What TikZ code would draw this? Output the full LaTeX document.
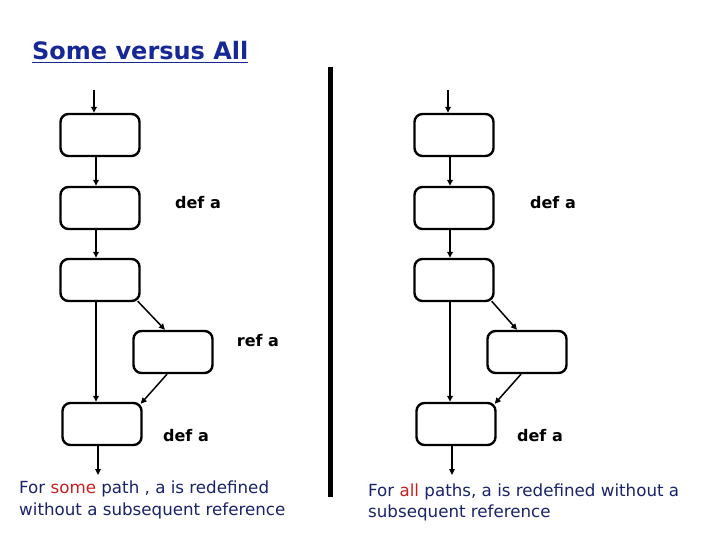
\documentclass[tikz,border=0pt]{standalone}
\usepackage{fontspec}
\setmainfont{DejaVu Sans}
\usepackage{xcolor}
\usepackage{tikz}
\usetikzlibrary{arrows.meta}
\definecolor{titleblue}{RGB}{22,40,150}
\definecolor{noteblue}{RGB}{25,35,105}
\definecolor{notered}{RGB}{200,30,30}
\tikzset{
  blockbox/.style={
    draw,
    rounded corners=8pt,
    line width=2.4pt,
    minimum width=79pt,
    minimum height=42pt
  },
  deflabel/.style={
    font=\bfseries\fontsize{16}{18}\selectfont,
    inner sep=0pt
  },
  notetext/.style={
    align=left,
    anchor=north west,
    inner sep=0pt,
    text=noteblue,
    font=\fontsize{16.7}{21.5}\selectfont
  },
  every edge/.style={draw, -{Triangle[length=6pt,width=5.5pt]}, line width=1.5pt}
}

\begin{document}
\begin{tikzpicture}[x=1pt,y=-1pt]
  \useasboundingbox (0,0) rectangle (720,540);

  \node[anchor=base west, inner sep=0pt, text=titleblue,
        font=\bfseries\fontsize{24}{28}\selectfont] (title) at (32,60) {\underline{Some versus All}};

  % left side
  \coordinate (lstart) at (94,90);
  \node[blockbox] (lb1) at (100,135) {};
  \node[blockbox] (lb2) at (100,208) {};
  \node[blockbox] (lb3) at (100,280) {};
  \node[blockbox] (lb4) at (173,352) {};
  \node[blockbox] (lb5) at (102,424) {};
  \coordinate (lend) at (98,475);

  \node[deflabel] (ldef1) at (198,203) {def a};
  \node[deflabel] (lref) at (258,341) {ref a};
  \node[deflabel] (ldef2) at (186,436) {def a};

  \path (lstart) edge ([xshift=-6pt]lb1.north)
        ([xshift=-4pt]lb1.south) edge ([xshift=-4pt]lb2.north)
        ([xshift=-4pt]lb2.south) edge ([xshift=-4pt]lb3.north)
        ([xshift=-4pt]lb3.south) edge ([xshift=-6pt]lb5.north)
        ([shift={(-3,-1)}]lb3.south east) edge ([xshift=-8pt]lb4.north)
        ([xshift=-6pt]lb4.south) edge ([shift={(-2,2)}]lb5.north east)
        ([xshift=-4pt]lb5.south) edge (lend);

  % divider
  \draw[line width=5pt] (330,67) -- (330,497);

  % right side
  \coordinate (rstart) at (448,90);
  \node[blockbox] (rb1) at (454,135) {};
  \node[blockbox] (rb2) at (454,208) {};
  \node[blockbox] (rb3) at (454,280) {};
  \node[blockbox] (rb4) at (527,352) {};
  \node[blockbox] (rb5) at (456,424) {};
  \coordinate (rend) at (452,475);

  \node[deflabel] (rdef1) at (553,203) {def a};
  \node[deflabel] (rdef2) at (540,436) {def a};

  \path (rstart) edge ([xshift=-6pt]rb1.north)
        ([xshift=-4pt]rb1.south) edge ([xshift=-4pt]rb2.north)
        ([xshift=-4pt]rb2.south) edge ([xshift=-4pt]rb3.north)
        ([xshift=-4pt]rb3.south) edge ([xshift=-6pt]rb5.north)
        ([shift={(-3,-1)}]rb3.south east) edge ([xshift=-10pt]rb4.north)
        ([xshift=-6pt]rb4.south) edge ([shift={(-2,2)}]rb5.north east)
        ([xshift=-4pt]rb5.south) edge (rend);

  % notes
  \node[notetext] (lnote) at (19,481)
    {For \textcolor{notered}{some} path , a is redefined\\without a subsequent reference};
  \node[notetext] (rnote) at (368,483.5)
    {For \textcolor{notered}{all} paths, a is redefined without a\\subsequent reference};
\end{tikzpicture}
\end{document}
